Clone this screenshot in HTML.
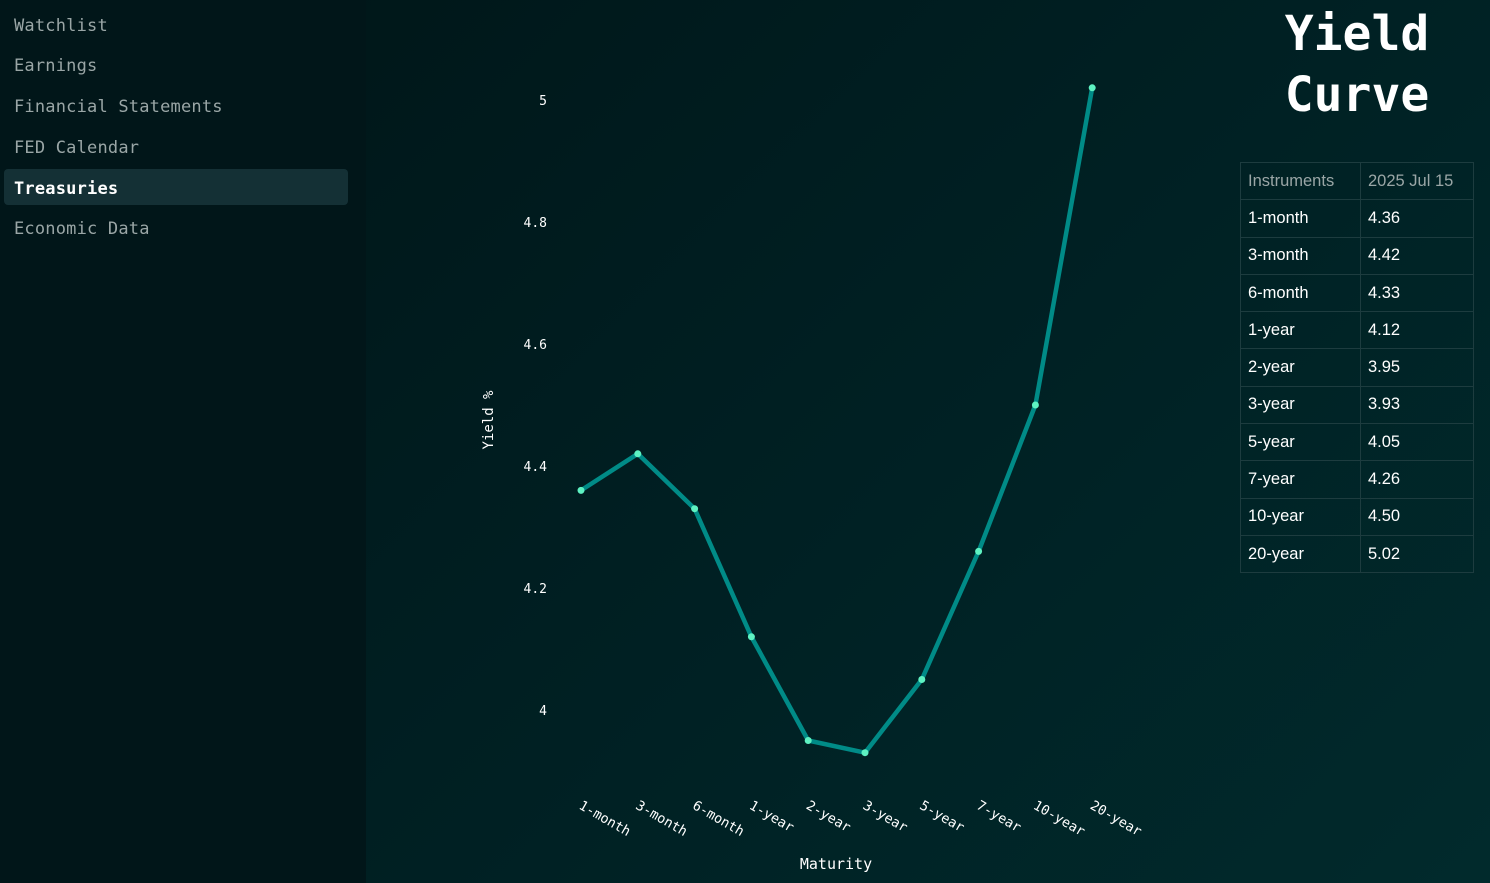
<!DOCTYPE html>
<html><head><meta charset="utf-8"><style>
body{margin:0;width:1490px;height:883px;overflow:hidden;background:linear-gradient(135deg,#001416 0%,#001f22 50%,#012a2c 100%);font-family:"DejaVu Sans Mono","Liberation Mono",monospace;}
#side{position:absolute;left:0;top:0;width:366px;height:883px;background:#011619;}
.nav{position:absolute;left:14px;font-size:17px;color:#9aa6a6;letter-spacing:0.2px}
#active{position:absolute;left:4px;top:169px;width:344px;height:36px;background:#143035;border-radius:4px}
#title{position:absolute;left:1240px;width:234px;top:4px;text-align:center;color:#fff;font-weight:bold;font-size:48px;line-height:61px}
table{position:absolute;left:1240px;top:162px;border-collapse:collapse;font-family:"Liberation Sans",sans-serif;font-size:16.5px;color:#fff}
td{border:1px solid #1d3c3f;height:37.3px;padding:0 0 0 7px;box-sizing:border-box}
td:first-child{width:120px}td:last-child{width:113px}
tr:first-child td{color:#9aa6a6}
svg{position:absolute;left:0;top:0}
</style></head><body>
<div id="side">
<div id="active"></div>
<div class="nav" style="top:16px">Watchlist</div>
<div class="nav" style="top:56px">Earnings</div>
<div class="nav" style="top:97px">Financial Statements</div>
<div class="nav" style="top:138px">FED Calendar</div>
<div class="nav" style="top:179px;color:#fff;font-weight:bold">Treasuries</div>
<div class="nav" style="top:219px">Economic Data</div>
</div>
<div id="title">Yield<br>Curve</div>
<table id="tbl"></table>
<svg id="chart" width="1490" height="883"></svg>
<script>
const categories=["1-month","3-month","6-month","1-year","2-year","3-year","5-year","7-year","10-year","20-year"];
const yields=[4.36,4.42,4.33,4.12,3.95,3.93,4.05,4.26,4.50,5.02];
const yTicks=[4,4.2,4.4,4.6,4.8,5];
const yTickLabels=["4","4.2","4.4","4.6","4.8","5"];
const tableDate="2025 Jul 15";
const NS="http://www.w3.org/2000/svg";
const svg=document.getElementById('chart');
const xs=i=>581+i*56.8;
const ys=v=>710-(v-4)*610;
function mk(t,a,p){const e=document.createElementNS(NS,t);for(const k in a)e.setAttribute(k,a[k]);(p||svg).appendChild(e);return e;}
yTicks.forEach((v,i)=>{
 const t=mk('text',{x:547,y:ys(v)+5,'text-anchor':'end',fill:'#fff','font-size':13,'font-family':'DejaVu Sans Mono,monospace'});
 t.textContent=yTickLabels[i];
 
 
});
categories.forEach((c,i)=>{
 const x=xs(i)-3,y=808;
 const t=mk('text',{x:x,y:y,fill:'#fff','font-size':13.5,'font-family':'DejaVu Sans Mono,monospace',transform:`rotate(30 ${x} ${y})`});
 t.textContent=c;
 
 
});
const yl=mk('text',{x:493,y:420,'text-anchor':'middle',fill:'#fff','font-size':14,'font-family':'DejaVu Sans Mono,monospace',transform:'rotate(-90 493 420)'});
yl.textContent='Yield %';


const xl=mk('text',{x:836,y:869,'text-anchor':'middle',fill:'#fff','font-size':15,'font-family':'DejaVu Sans Mono,monospace'});
xl.textContent='Maturity';


const line=mk('polyline',{points:yields.map((v,i)=>xs(i)+','+ys(v)).join(' '),fill:'none',stroke:'#008b87','stroke-width':4.5,'stroke-linejoin':'round'});


yields.forEach((v,i)=>{
 const c=mk('circle',{cx:xs(i),cy:ys(v),r:3.5,fill:'#5ef2c2'});
 
 
});
const tbl=document.getElementById('tbl');
let h='<tr><td>Instruments</td><td>'+tableDate+'</td></tr>';
categories.forEach((c,i)=>{h+='<tr><td>'+c+'</td><td>'+yields[i].toFixed(2)+'</td></tr>';});
tbl.innerHTML=h;
tbl.querySelectorAll('tr').forEach(r=>{
 
 
});
</script>
</body></html>
